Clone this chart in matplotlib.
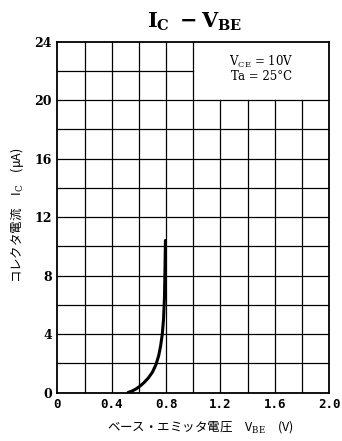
import matplotlib
matplotlib.use('Agg')
import matplotlib.pyplot as plt

# curve
vbe = [0.52, 0.55, 0.58, 0.61, 0.64, 0.67, 0.70, 0.725, 0.745, 0.76, 0.772, 0.781, 0.788, 0.792, 0.795]
ic = [0.0, 0.1, 0.25, 0.45, 0.7, 1.0, 1.4, 1.9, 2.5, 3.2, 4.0, 5.0, 6.5, 8.5, 10.4]

x_ticks = [0, 0.4, 0.8, 1.2, 1.6, 2.0]
x_tick_labels = ['0', '0.4', '0.8', '1.2', '1.6', '2.0']
y_ticks = [0, 4, 8, 12, 16, 20, 24]
y_tick_labels = ['0', '4', '8', '12', '16', '20', '24']
x_grid = [0.2, 0.4, 0.6, 0.8, 1.0, 1.2, 1.4, 1.6, 1.8]
y_grid = [2, 4, 6, 8, 10, 12, 14, 16, 18, 20, 22]

title = r'$\mathbf{I_C\ -V_{BE}}$'
xlabel = 'ベース・エミッタ電圧　V$_\\mathrm{BE}$　(V)'
ylabel = 'コレクタ電流　I$_\\mathrm{C}$　(μA)'
cond1 = 'V$_\\mathrm{CE}$ = 10V'
cond2 = 'Ta = 25°C'

plt.rcParams['mathtext.fontset'] = 'dejavuserif'
cjk = ['Noto Sans CJK JP', 'DejaVu Sans']

fig = plt.figure(figsize=(3.42, 4.41), dpi=100)
ax = fig.add_axes([57.3 / 342, 1 - 392.5 / 441, 272 / 342, 350.8 / 441])
ax.set_xlim(0, 2.0)
ax.set_ylim(0, 24)

# grid with the blank box in the upper right for the conditions
for gx in x_grid:
    top = 24 if gx <= 1.0 else 20
    ax.plot([gx, gx], [0, top], color='black', lw=0.9, zorder=1)
for gy in y_grid:
    right = 2.0 if gy <= 20 else 1.0
    ax.plot([0, right], [gy, gy], color='black', lw=0.9, zorder=1)

ax.plot(vbe, ic, color='black', lw=2.2, solid_capstyle='round', solid_joinstyle='round', zorder=3)

for s in ax.spines.values():
    s.set_linewidth(1.3)

ax.set_xticks(x_ticks)
ax.set_xticklabels(x_tick_labels, family='DejaVu Sans Mono', fontsize=9, fontweight='bold')
ax.set_yticks(y_ticks)
ax.set_yticklabels(y_tick_labels, family='DejaVu Serif', fontsize=9, fontweight='bold')
ax.tick_params(length=0, pad=4)

ax.text(1.5, 22.6, cond1, ha='center', va='center', family='DejaVu Serif', fontsize=8.5)
ax.text(1.5, 21.6, cond2, ha='center', va='center', family='DejaVu Serif', fontsize=8.5)

fig.text(0.57, 1 - 22 / 441, title, ha='center', va='center', fontsize=15)
fig.text(0.585, 1 - 427 / 441, xlabel, ha='center', va='center', family=cjk, fontsize=9)
fig.text(17 / 342, 1 - 215 / 441, ylabel, ha='center', va='center', rotation=90, family=cjk, fontsize=9)

fig.savefig('out.png', dpi=100)
